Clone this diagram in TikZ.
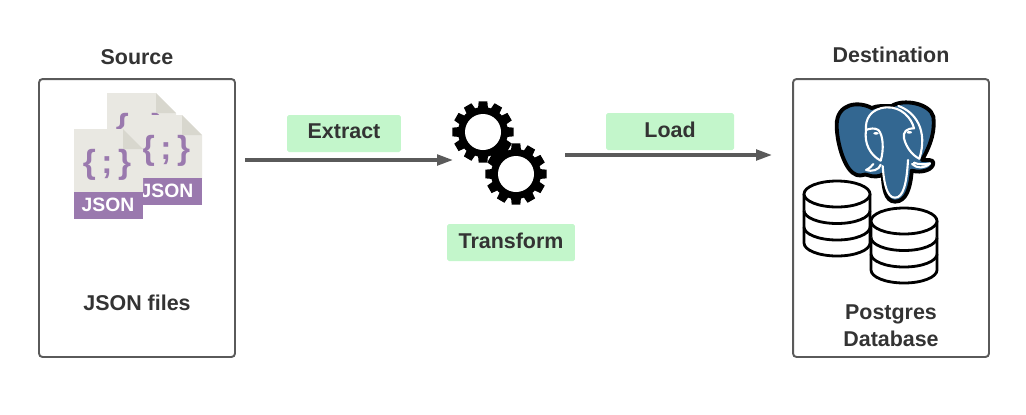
\documentclass[tikz,border=0pt]{standalone}
\usepackage{fontspec}
\setmainfont{Liberation Sans}
\usetikzlibrary{arrows.meta}

\definecolor{inkgrey}{HTML}{333333}
\definecolor{edgegrey}{HTML}{5A5A5A}
\definecolor{tagGreen}{HTML}{C3F6CB}
\definecolor{pagePaper}{HTML}{E9E8E2}
\definecolor{pageFold}{HTML}{D8D7CE}
\definecolor{jsonPurple}{HTML}{9A79AE}
\definecolor{pgBlue}{HTML}{336791}

\tikzset{
  boxnode/.style={draw=edgegrey, line width=1.1pt, rounded corners=2pt, minimum width=3.92cm, minimum height=5.56cm},
  headtext/.style={font=\fontsize{12.2}{15}\selectfont\bfseries, text=inkgrey},
  tagnode/.style={fill=tagGreen, rounded corners=1pt, minimum height=0.74cm, inner sep=0pt, font=\fontsize{12.2}{15}\selectfont\bfseries, text=inkgrey},
  flowline/.style={draw=edgegrey, line width=1.8pt, -{Triangle[length=9pt, width=6pt]}},
  dbline/.style={line width=1.6pt, fill=white},
  whiteline/.style={white, line width=1.2pt, line cap=round, line join=round},
  pics/gearwheel/.style={code={
    \fill[black] (0, 0) circle (25);
    \foreach \a in {0, 30, ..., 330} {
      \fill[black] (\a-12:24) -- (\a-8:31) -- (\a+8:31) -- (\a+12:24) -- cycle;
    }
    \fill[white] (0, 0) circle (18);
  }},
  pics/dbstack/.style={code={
    \draw[dbline] (-33, 0) -- (-33, 49) arc[start angle=180, end angle=0, x radius=33, y radius=13] -- (33, 0);
    \draw[dbline] (-33, 16.5) arc[start angle=180, end angle=0, x radius=33, y radius=13];
    \draw[dbline] (-33, 33) arc[start angle=180, end angle=0, x radius=33, y radius=13];
    \draw[dbline] (0, 0) ellipse[x radius=33, y radius=13];
  }}
}

% left, top of one file
\newcommand{\jsonfile}[3]{
  \fill[pagePaper] (#1, #2) -- (#1+49, #2) -- (#1+69, #2+20) -- (#1+69, #2+64) -- (#1, #2+64) -- cycle;
  \fill[pageFold] (#1+49, #2) -- (#1+69, #2+20) -- (#1+49, #2+20) -- cycle;
  \fill[jsonPurple] (#1, #2+63) rectangle (#1+69, #2+90);
  \node[text=jsonPurple, inner sep=0pt, font=\fontsize{19}{19}\selectfont\bfseries] (#3brace) at (#1+33, #2+36) {\{\,;\,\}};
  \node[text=white, inner sep=0pt, font=\fontsize{11}{12}\selectfont\bfseries] (#3tag) at (#1+34, #2+76) {JSON};
}

\begin{document}
\begin{tikzpicture}[x=0.02cm, y=-0.02cm]

\useasboundingbox (0, 0) rectangle (1026, 414);

% Boxes
\node[boxnode] (source) at (137, 218) {};
\node[boxnode] (destination) at (891, 218) {};

% Titles
\node[headtext] (sourcetitle) at (137, 57) {Source};
\node[headtext] (destinationtitle) at (891, 55) {Destination};
\node[headtext] (jsontext) at (137, 303) {JSON files};
\node[headtext] (pgtext) at (891, 314) {Postgres};
\node[headtext] (dbtext) at (891, 339) {Database};

% Files
\jsonfile{107}{93}{back}
\jsonfile{133}{115}{middle}
\jsonfile{74}{129}{front}

% Tags
\node[tagnode, minimum width=2.28cm] (extract) at (344, 133.5) {\raisebox{2.5pt}{Extract}};
\node[tagnode, minimum width=2.56cm] (load) at (670, 131.5) {\raisebox{2.5pt}{Load}};
\node[tagnode, minimum width=2.56cm] (transform) at (511, 242.5) {\raisebox{2.5pt}{Transform}};

% Gears
\pic at (483, 132) {gearwheel};
\pic at (516, 174) {gearwheel};

% Arrows
\coordinate (extractstart) at (245, 160);
\coordinate (extractend) at (453, 160);
\coordinate (loadstart) at (565, 155);
\coordinate (loadend) at (772, 155);
\draw[flowline] (extractstart) -- (extractend);
\draw[flowline] (loadstart) -- (loadend);

% Elephant
\begin{scope}[shift={(790, 80)}, scale=1/3]
  \draw[fill=pgBlue, draw=black, line width=2.2pt, line join=round]
    (245, 84) .. controls (205, 62) and (140, 70) .. (140, 135)
    .. controls (140, 190) and (165, 275) .. (200, 285)
    .. controls (215, 290) and (225, 280) .. (232, 285)
    .. controls (250, 292) and (270, 290) .. (278, 283)
    .. controls (280, 320) and (285, 365) .. (315, 365)
    .. controls (350, 365) and (362, 320) .. (365, 272)
    .. controls (395, 280) and (430, 270) .. (430, 248)
    .. controls (430, 238) and (410, 240) .. (396, 240)
    .. controls (425, 190) and (435, 150) .. (430, 110)
    .. controls (420, 70) and (340, 55) .. (305, 78)
    .. controls (285, 78) and (262, 76) .. (245, 84) -- cycle;
  % head
  \draw[whiteline]
    (228, 150) .. controls (225, 120) and (240, 85) .. (290, 82)
    .. controls (335, 80) and (365, 115) .. (372, 145);
  \draw[whiteline]
    (325, 78) .. controls (375, 95) and (415, 150) .. (388, 236);
  % eyes
  \draw[whiteline] (228, 150) .. controls (222, 190) and (240, 225) .. (272, 242)
    .. controls (282, 210) and (280, 165) .. (265, 150) .. controls (255, 143) and (240, 145) .. (228, 150);
  \draw[whiteline] (372, 145) .. controls (350, 145) and (338, 155) .. (342, 175)
    .. controls (348, 200) and (365, 225) .. (388, 236);
  \fill[white] (258, 160) ellipse[x radius=8, y radius=4];
  \fill[white] (358, 157) ellipse[x radius=8, y radius=4];
  % tusks
  \draw[whiteline] (272, 254) .. controls (268, 270) and (245, 276) .. (228, 270) .. controls (240, 264) and (245, 258) .. (250, 252);
  \draw[whiteline] (366, 252) .. controls (380, 266) and (405, 266) .. (420, 250) .. controls (405, 254) and (385, 254) .. (372, 248);
  % trunk
  \draw[whiteline] (278, 258) .. controls (282, 310) and (290, 353) .. (315, 353)
    .. controls (340, 353) and (350, 310) .. (354, 240);
\end{scope}

% Databases
\pic at (837, 194) {dbstack};
\pic at (904, 221) {dbstack};

\end{tikzpicture}
\end{document}
